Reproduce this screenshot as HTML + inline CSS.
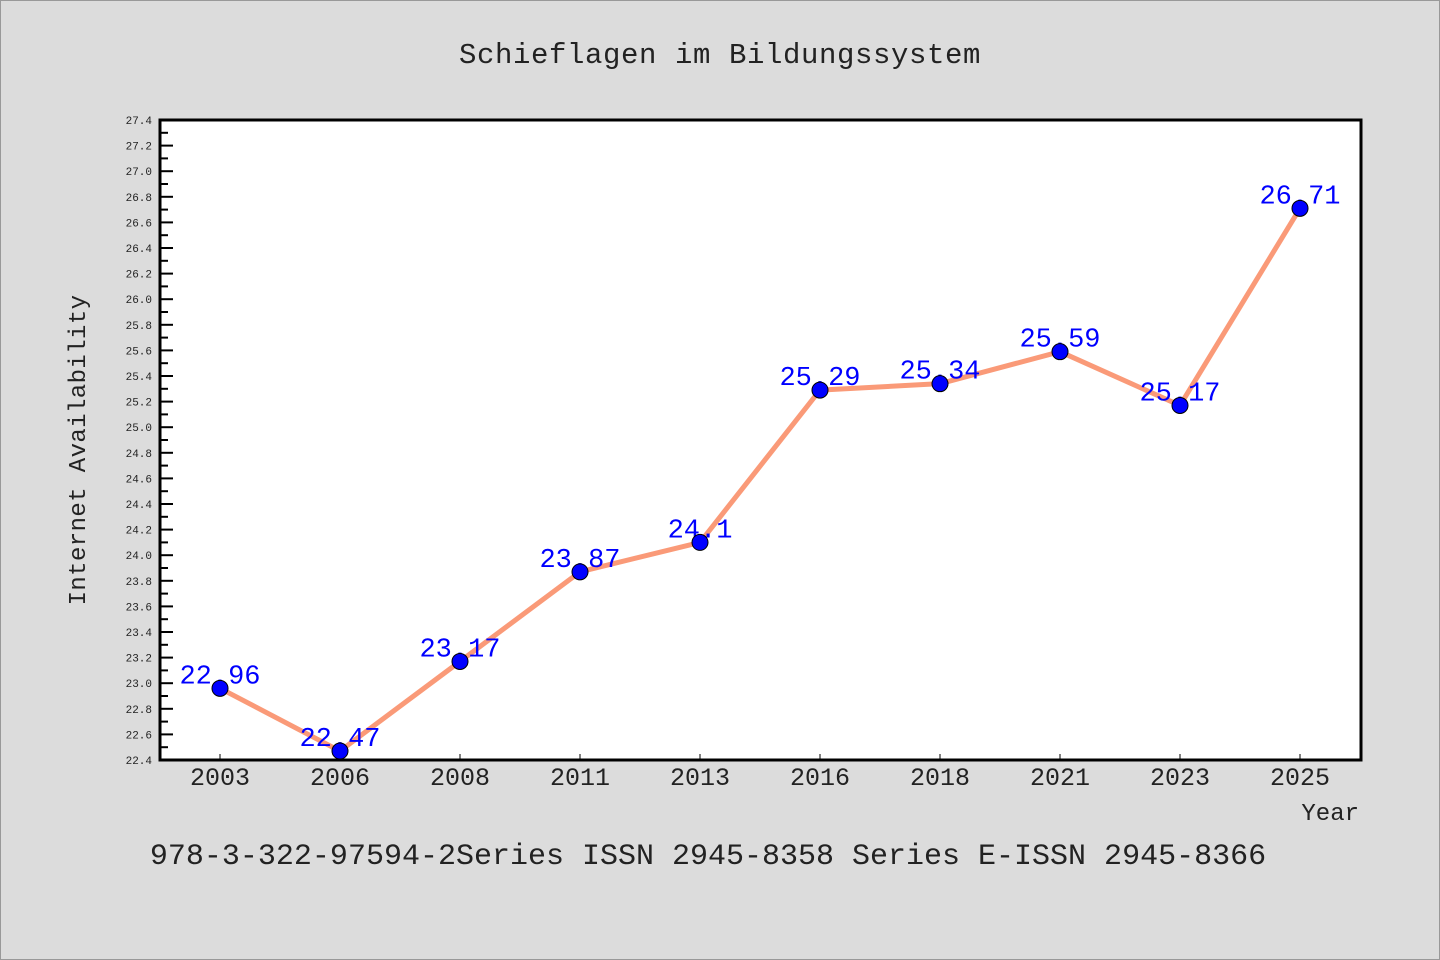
<!DOCTYPE html>
<html><head><meta charset="utf-8"><style>
html,body{margin:0;padding:0;background:#dcdcdc;}
svg{display:block;font-family:"Liberation Mono","WenQuanYi Zen Hei",monospace;}
</style></head><body>
<svg id="chart" width="1440" height="960" viewBox="0 0 1440 960">
<rect x="0.5" y="0.5" width="1439" height="959" fill="#dcdcdc" stroke="#999"/>
<text x="720" y="63" text-anchor="middle" font-size="29" fill="#222" letter-spacing="0.6">Schieflagen im Bildungssystem</text>
<rect x="160" y="120" width="1201" height="640" fill="#fff"/>
<g id="yticks"></g>
<g id="xticks"></g>
<g id="series"></g>
<rect x="160" y="120" width="1201" height="640" fill="none" stroke="#000" stroke-width="3"/>
<text transform="translate(85,450) rotate(-90)" text-anchor="middle" font-size="24" fill="#222" letter-spacing="0.4">Internet Availability</text>
<text x="1359" y="820" text-anchor="end" font-size="24" fill="#222">Year</text>
<text x="708" y="864" text-anchor="middle" font-size="30" fill="#222">978-3-322-97594-2Series ISSN 2945-8358 Series E-ISSN 2945-8366</text>
</svg>
<script>
const categories = ["2003","2006","2008","2011","2013","2016","2018","2021","2023","2025"];
const values = [22.96,22.47,23.17,23.87,24.1,25.29,25.34,25.59,25.17,26.71];
const valueLabels = ["22.96","22.47","23.17","23.87","24.1","25.29","25.34","25.59","25.17","26.71"];
const yMin = 22.4, yMax = 27.4, yStep = 0.2;
const NS = "http://www.w3.org/2000/svg";
const L = 160, R = 1361, T = 120, B = 760;
function y(v){ return B - (v - yMin) / (yMax - yMin) * (B - T); }
function x(i){ return 220 + i * 120; }
function mk(tag, attrs, parent){ const e = document.createElementNS(NS, tag); for (const k in attrs) e.setAttribute(k, attrs[k]); parent.appendChild(e); return e; }
const yg = document.getElementById("yticks");
const nT = Math.round((yMax - yMin) / yStep);
for (let i = 0; i <= nT; i++) {
  const v = yMin + i * yStep, yy = y(v);
  const t = mk("line", {x1: L, x2: L + 13, y1: yy, y2: yy, stroke: "#000", "stroke-width": 2}, yg);
  
  
  if (i < nT) {
    const m = mk("line", {x1: L, x2: L + 8, y1: y(v + yStep / 2), y2: y(v + yStep / 2), stroke: "#000", "stroke-width": 2}, yg);
    
    
  }
  const lb = mk("text", {x: 152, y: yy + 4, "text-anchor": "end", "font-size": 11, fill: "#222"}, yg);
  lb.textContent = v.toFixed(1);
  
  
}
const xg = document.getElementById("xticks");
categories.forEach((c, i) => {
  const t = mk("line", {x1: x(i), x2: x(i), y1: B, y2: B - 6, stroke: "#000", "stroke-width": 1}, xg);
  
  
  const lb = mk("text", {x: x(i), y: 785, "text-anchor": "middle", "font-size": 25, fill: "#222"}, xg);
  lb.textContent = c;
  
  
});
const sg = document.getElementById("series");
const line = mk("polyline", {points: values.map((v, i) => x(i) + "," + y(v)).join(" "), fill: "none", stroke: "#fa9a78", "stroke-width": 5, "stroke-linejoin": "round"}, sg);


values.forEach((v, i) => {
  const lb = mk("text", {x: x(i), y: y(v) - 5, "text-anchor": "middle", "font-size": 27, fill: "#0000ff"}, sg);
  lb.textContent = valueLabels[i];
  
  
});
values.forEach((v, i) => {
  const p = mk("circle", {cx: x(i), cy: y(v), r: 8, fill: "#0000ff", stroke: "#000", "stroke-width": 1}, sg);
  
  
});
</script>
</body></html>
